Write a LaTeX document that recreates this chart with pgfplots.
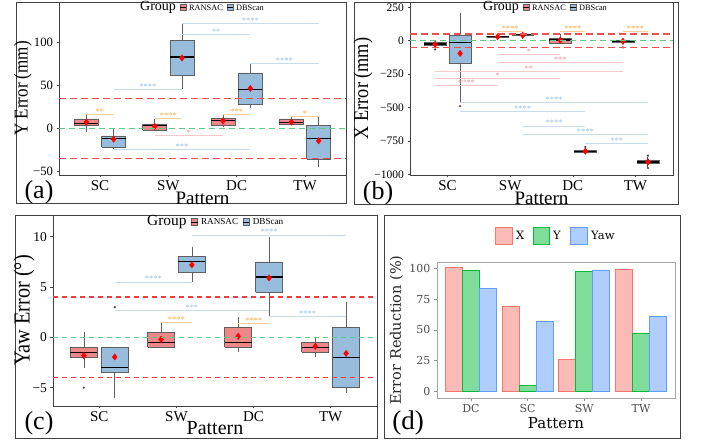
\documentclass[border=0pt]{standalone}
\usepackage{fontspec}
\setmainfont{Liberation Serif}
\newfontfamily\djv{DejaVu Serif}
\usepackage{graphicx}
\usepackage{pgfplots}
\pgfplotsset{compat=1.18}

\definecolor{ransac}{RGB}{238,136,136}
\definecolor{dbscan}{RGB}{152,189,220}
\definecolor{boxedge}{RGB}{95,95,95}
\definecolor{sigorange}{RGB}{255,165,60}
\definecolor{sigorangel}{RGB}{255,205,150}
\definecolor{sigpink}{RGB}{240,150,150}
\definecolor{sigpinkl}{RGB}{246,200,200}
\definecolor{sigblue}{RGB}{150,190,228}
\definecolor{sigbluel}{RGB}{200,220,238}
\definecolor{redline}{RGB}{242,80,80}
\definecolor{redlinec}{RGB}{240,60,60}
\definecolor{greenline}{RGB}{90,205,130}
\definecolor{xline}{RGB}{248,118,109}
\definecolor{xfill}{RGB}{250,186,182}
\definecolor{yline}{RGB}{0,186,56}
\definecolor{yfill}{RGB}{128,220,155}
\definecolor{yawline}{RGB}{97,156,255}
\definecolor{yawfill}{RGB}{176,205,255}

\newcommand{\sigfont}{\fontsize{8.5}{8.5}\selectfont}
% colour, x1, x2, xmid, y, stars
\newcommand{\sig}[6]{%
  \addplot[draw=#1l, line width=0.7pt] coordinates {(#2,#5) (#3,#5)};
  \node[text=#1, font=\sigfont, anchor=base, inner sep=0pt] at (axis cs:#4,#5) {#6};
}
% pos, lower whisker, lower quartile, median, upper quartile, upper whisker, fill
\newcommand{\bx}[7]{%
  \pgfmathsetmacro\bxl{#1-0.175}\pgfmathsetmacro\bxr{#1+0.175}%
  \addplot[draw=boxedge, line width=0.6pt] coordinates {(#1,#2) (#1,#3)};
  \addplot[draw=boxedge, line width=0.6pt] coordinates {(#1,#5) (#1,#6)};
  \addplot[draw=boxedge, fill=#7, line width=0.6pt, line join=miter] coordinates {(\bxl,#3) (\bxr,#3) (\bxr,#5) (\bxl,#5) (\bxl,#3)};
  \addplot[draw=black, line width=1.3pt] coordinates {(\bxl,#4) (\bxr,#4)};
}
% reference line end points in axis coordinates: name, y value
\newcommand{\hlc}[2]{%
  \coordinate (#1L) at (axis cs:0.4,#2);
  \coordinate (#1R) at (axis cs:4.6,#2);
}
\newcommand{\grouplegend}[3]{%
\begin{scope}[shift={(#1,#2)}, scale=#3, every node/.append style={transform shape}]
 \node[anchor=west, inner sep=0pt, font=\fontsize{14}{14}\selectfont] at (0pt,0pt) {Group};
 \draw[boxedge, fill=ransac, line width=0.4pt] (40pt,-3pt) rectangle (46pt,3pt);
 \draw[black, line width=0.6pt] (40pt,0pt) -- (46pt,0pt);
 \node[anchor=west, inner sep=0pt, font=\fontsize{8.3}{8.3}\selectfont] at (49pt,0pt) {RANSAC};
 \draw[boxedge, fill=dbscan, line width=0.4pt] (87pt,-3pt) rectangle (93pt,3pt);
 \draw[black, line width=0.6pt] (87pt,0pt) -- (93pt,0pt);
 \node[anchor=west, inner sep=0pt, font=\fontsize{8.3}{8.3}\selectfont] at (96pt,0pt) {DBScan};
\end{scope}}

\pgfplotsset{
  boxax/.style={scale only axis, anchor=south west, xmin=0.4, xmax=4.6,
    xtick={1,2,3,4}, xticklabels={SC,SW,DC,TW}, tick pos=left, tick align=outside,
    major tick length=2.5pt, axis line style={black!75, line width=0.6pt},
    tick style={black!75, line width=0.6pt},
    xticklabel style={font=\fontsize{15}{15}\selectfont},
    yticklabel style={font=\fontsize{12.7}{12.7}\selectfont},
    clip=false},
  meanstyle/.style={only marks, mark=diamond*, mark size=3.2pt, color=red, mark options={fill=red, draw=red}},
  outstyle/.style={only marks, mark=*, mark size=0.9pt, mark options={fill=black!70, draw=black!70}},
}

\begin{document}
\begin{tikzpicture}
\fill[white] (0pt,0pt) rectangle (702pt,443pt);
\path[use as bounding box] (0pt,0pt) rectangle (702pt,443pt);

% ---------------- (a) ----------------
\draw[black!75, line width=0.8pt] (16pt,240pt) rectangle (346pt,441pt);
\begin{axis}[boxax, at={(59pt,268pt)}, width=287pt, height=173pt,
  ymin=-54, ymax=147, ytick={-50,0,50,100}, yticklabels={−50,0,50,100}]
\bx{0.8}{-4.3}{3.9}{6.2}{11.2}{15.9}{ransac}
\bx{1.2}{-24}{-21.7}{-11.2}{-8.5}{0.4}{dbscan}
\bx{1.8}{-2.3}{-1.6}{3.1}{5.4}{10.9}{ransac}
\bx{2.2}{45.7}{62}{83}{102.7}{123}{dbscan}
\bx{2.8}{1.9}{3.9}{9.7}{12}{15.9}{ransac}
\bx{3.2}{23.6}{28.7}{45}{64.7}{75.2}{dbscan}
\bx{3.8}{4.3}{5}{6.6}{11.2}{14.3}{ransac}
\bx{4.2}{-44.2}{-35.7}{-11.2}{3.9}{14.3}{dbscan}
\sig{sigorange}{0.8}{1.2}{1.0}{16.7}{**}
\sig{sigorange}{1.8}{2.2}{2.0}{12}{****}
\sig{sigorange}{2.8}{3.2}{3.0}{16.7}{***}
\sig{sigorange}{3.8}{4.2}{4.0}{14.3}{*}
\sig{sigpink}{1.8}{2.8}{2.3}{-7.8}{*}
\sig{sigblue}{1.2}{2.2}{1.7}{45.7}{****}
\sig{sigblue}{2.2}{3.2}{2.7}{109.7}{**}
\sig{sigblue}{2.2}{4.2}{3.2}{122.5}{****}
\sig{sigblue}{3.2}{4.2}{3.7}{75.2}{****}
\sig{sigblue}{1.2}{3.2}{2.2}{-24}{***}
\addplot[meanstyle] coordinates {(0.8,7.4) (1.2,-12.4) (1.8,2.5) (2.2,82) (2.8,8.9) (3.2,46.5) (3.8,7.4) (4.2,-14.3)};
\hlc{a1}{35}
\hlc{a2}{-35}
\hlc{a3}{0}
\end{axis}
\draw[redline, line width=1.6pt, dash pattern=on 7pt off 4pt] (a1L) -- (a1R);
\draw[redline, line width=1.6pt, dash pattern=on 7pt off 4pt] (a2L) -- (a2R);
\draw[greenline, line width=1.4pt, dash pattern=on 6pt off 4pt] (a3L) -- (a3R);
\grouplegend{140pt}{435.5pt}{1}
\node[rotate=90, font=\fontsize{19.6}{20}\selectfont] at (23pt,354.5pt) {\scalebox{0.87}[1]{Y Error (mm)}};
\node[font=\fontsize{19}{19}\selectfont] at (202.5pt,245pt) {Pattern};
\node[font=\fontsize{26}{26}\selectfont] at (39pt,251pt) {(a)};

% ---------------- (b) ----------------
\draw[black!75, line width=0.8pt] (354pt,239pt) rectangle (678pt,441pt);
\begin{axis}[boxax, at={(410pt,268pt)}, width=263pt, height=173pt,
  ymin=-1005, ymax=290, ytick={-1000,-750,-500,-250,0,250}, yticklabels={−1000,−750,−500,−250,0,250},
  yticklabel style={font=\fontsize{11.5}{11.5}\selectfont}]
\bx{0.8}{-45}{-37}{-25}{-12.5}{-5}{ransac}
\bx{1.2}{-465}{-170}{-12.5}{37.5}{205}{dbscan}
\bx{1.8}{25}{28}{30}{32}{35}{ransac}
\bx{2.2}{40}{43}{45}{47}{50}{dbscan}
\bx{2.8}{-25}{-20}{5}{15}{50}{ransac}
\bx{3.2}{-840}{-832}{-827}{-822}{-815}{dbscan}
\bx{3.8}{-20}{-15}{-5}{2.5}{5}{ransac}
\bx{4.2}{-925}{-920}{-907}{-895}{-885}{dbscan}
\sig{sigorange}{1.8}{2.2}{2.0}{72.5}{****}
\sig{sigorange}{2.8}{3.2}{3.0}{72.5}{****}
\sig{sigorange}{3.8}{4.2}{4.0}{72.5}{****}
\sig{sigpink}{1.8}{2.8}{2.3}{-100}{*}
\sig{sigpink}{1.8}{3.8}{2.8}{-165}{***}
\sig{sigpink}{0.8}{3.8}{2.3}{-227.5}{**}
\sig{sigpink}{0.8}{2.8}{1.8}{-285}{*}
\sig{sigpink}{0.8}{1.8}{1.3}{-335}{****}
\sig{sigblue}{1.2}{4.2}{2.7}{-462.5}{****}
\sig{sigblue}{1.2}{3.2}{2.2}{-527.5}{****}
\sig{sigblue}{2.2}{3.2}{2.7}{-637.5}{****}
\sig{sigblue}{2.2}{4.2}{3.2}{-702.5}{****}
\sig{sigblue}{3.2}{4.2}{3.7}{-770}{***}
\addplot[draw=red, line width=1pt] coordinates {(4.2,-945) (4.2,-869)};
\addplot[outstyle] coordinates {(0.8,-65) (1.2,-490) (3.2,-795) (3.8,-50) (4.2,-860) (4.2,-952)};
\addplot[meanstyle] coordinates {(0.8,-27.5) (1.2,-95) (1.8,30) (2.2,40) (2.8,5) (3.2,-827) (3.8,-5) (4.2,-907)};
\hlc{b1}{50}
\hlc{b2}{-50}
\hlc{b3}{0}
\end{axis}
\draw[redline, line width=1.5pt, dash pattern=on 7pt off 4pt] (b1L) -- (b1R);
\draw[redline, line width=1.5pt, dash pattern=on 7pt off 4pt] (b2L) -- (b2R);
\draw[greenline, line width=1.3pt, dash pattern=on 6pt off 4pt] (b3L) -- (b3R);
\grouplegend{483pt}{435.5pt}{1}
\node[rotate=90, font=\fontsize{21}{21}\selectfont] at (363pt,354.5pt) {\scalebox{0.87}[1]{X Error (mm)}};
\node[font=\fontsize{19}{19}\selectfont] at (541.5pt,244.5pt) {Pattern};
\node[font=\fontsize{26}{26}\selectfont] at (378pt,250pt) {(b)};

% ---------------- (c) ----------------
\draw[black!75, line width=0.8pt] (15pt,5pt) rectangle (377pt,228pt);
\begin{axis}[boxax, at={(53pt,37pt)}, width=324pt, height=191pt,
  ymin=-6.82, ymax=12.15, ytick={-5,0,5,10}, yticklabels={−5,0,5,10},
  yticklabel style={font=\fontsize{13.5}{13.5}\selectfont}]
\bx{0.8}{-3}{-2}{-1.5}{-1}{0.5}{ransac}
\bx{1.2}{-6}{-3.5}{-3}{-1}{-1}{dbscan}
\bx{1.8}{-1}{-1}{-0.5}{0.5}{1.5}{ransac}
\bx{2.2}{5.5}{6.5}{7.5}{8}{9}{dbscan}
\bx{2.8}{-1.5}{-1}{-0.5}{1}{2}{ransac}
\bx{3.2}{2}{4.5}{6}{7.5}{10}{dbscan}
\bx{3.8}{-2}{-1.5}{-1}{-0.5}{0}{ransac}
\bx{4.2}{-5.5}{-5}{-2}{1}{3.5}{dbscan}
\sig{sigblue}{2.2}{4.2}{3.2}{10.17}{****}
\sig{sigblue}{1.2}{2.2}{1.7}{5.5}{****}
\sig{sigblue}{1.2}{3.2}{2.2}{2.7}{***}
\sig{sigblue}{3.2}{4.2}{3.7}{2.05}{****}
\sig{sigorange}{1.8}{2.2}{2.0}{1.5}{****}
\sig{sigorange}{2.8}{3.2}{3.0}{1.4}{****}
\addplot[outstyle] coordinates {(0.8,-5) (1.2,3) (2.2,4)};
\addplot[meanstyle] coordinates {(0.8,-1.8) (1.2,-1.95) (1.8,-0.2) (2.2,7.2) (2.8,0.1) (3.2,5.9) (3.8,-0.9) (4.2,-1.6)};
\hlc{c1}{4}
\hlc{c2}{-4}
\hlc{c3}{0}
\end{axis}
\draw[redlinec, line width=1.2pt, dash pattern=on 5pt off 4pt] (c1L) -- (c1R);
\draw[redlinec, line width=1.2pt, dash pattern=on 5pt off 4pt] (c2L) -- (c2R);
\draw[greenline, line width=1.1pt, dash pattern=on 5pt off 4pt] (c3L) -- (c3R);
\grouplegend{147pt}{221pt}{1.1}
\node[rotate=90, font=\fontsize{23}{23}\selectfont] at (24pt,132.5pt) {\scalebox{0.88}[1]{Yaw Error (°)}};
\node[font=\fontsize{20}{20}\selectfont] at (215pt,15pt) {Pattern};
\node[font=\fontsize{26}{26}\selectfont] at (39pt,20pt) {(c)};

% ---------------- (d) ----------------
\draw[black!75, line width=0.8pt] (384pt,5pt) rectangle (680pt,228pt);
\begin{axis}[scale only axis, anchor=south west, at={(437pt,45pt)}, width=238pt, height=136pt,
  xmin=0.4, xmax=4.6, ymin=-5.1, ymax=105.1,
  xtick={1,2,3,4}, xticklabels={DC,SC,SW,TW},
  ytick={0,25,50,75,100}, yticklabels={0,25,50,75,100},
  tick pos=left, tick align=outside, major tick length=3pt,
  axis line style={black!35, line width=0.8pt}, tick style={black!45, line width=0.8pt},
  ticklabel style={font=\djv\fontsize{11}{11}\selectfont, text=black!70},
  ybar, bar width=0.3]
\addplot[draw=xline, fill=xfill, line width=0.8pt, bar shift=-0.3] coordinates {(1,100.5) (2,69.5) (3,26.2) (4,99.2)};
\addplot[draw=yline, fill=yfill, line width=0.8pt, bar shift=0] coordinates {(1,98.6) (2,5.4) (3,97.8) (4,47.3)};
\addplot[draw=yawline, fill=yawfill, line width=0.8pt, bar shift=0.3] coordinates {(1,83.8) (2,56.8) (3,98.6) (4,60.8)};
\end{axis}
\draw[xline, fill=xfill, line width=0.8pt] (495pt,199pt) rectangle (512pt,216pt);
\node[anchor=west, font=\djv\fontsize{11.5}{11.5}\selectfont, inner sep=0pt] at (516pt,207.5pt) {X};
\draw[yline, fill=yfill, line width=0.8pt] (533pt,199pt) rectangle (549pt,216pt);
\node[anchor=west, font=\djv\fontsize{11.5}{11.5}\selectfont, inner sep=0pt] at (553pt,207.5pt) {Y};
\draw[yawline, fill=yawfill, line width=0.8pt] (570pt,199pt) rectangle (587pt,216pt);
\node[anchor=west, font=\djv\fontsize{11.5}{11.5}\selectfont, inner sep=0pt] at (591pt,207.5pt) {Yaw};
\node[rotate=90, font=\djv\fontsize{14.5}{15}\selectfont, text=black!85] at (396.5pt,113pt) {Error Reduction (\%)};
\node[font=\djv\fontsize{15}{15}\selectfont] at (556pt,19.5pt) {Pattern};
\node[font=\fontsize{27}{27}\selectfont] at (408pt,20pt) {(d)};
\end{tikzpicture}
\end{document}
